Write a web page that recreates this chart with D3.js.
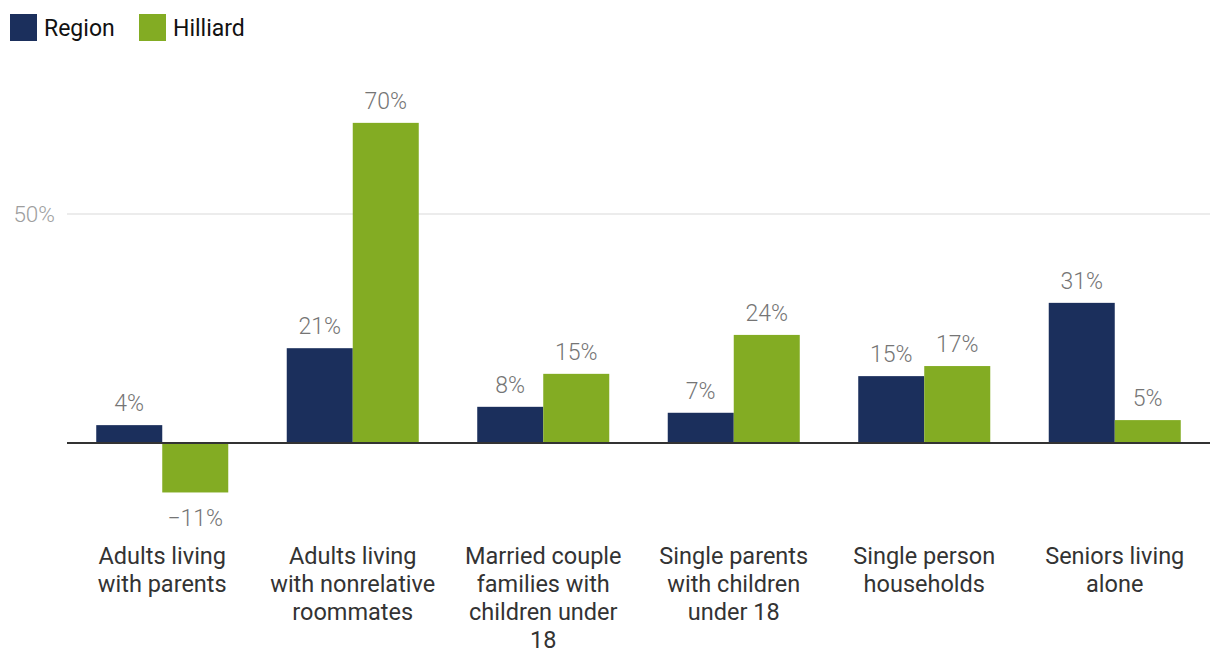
<!DOCTYPE html>
<html>
<head>
<meta charset="utf-8">
<script src="https://cdn.jsdelivr.net/npm/d3@7"></script>
<style>
  body { margin: 0; background: #fff; font-family: Roboto, "Noto Sans", sans-serif; }
</style>
</head>
<body>
<div id="chart"></div>
<script>
// DATA ----------------------------------------------
const categories = [
  ["Adults living", "with parents"],
  ["Adults living", "with nonrelative", "roommates"],
  ["Married couple", "families with", "children under", "18"],
  ["Single parents", "with children", "under 18"],
  ["Single person", "households"],
  ["Seniors living", "alone"]
];
const seriesNames = ["Region", "Hilliard"];
const regionValues = [0.039, 0.207, 0.079, 0.066, 0.146, 0.306];
const hilliardValues = [-0.108, 0.699, 0.151, 0.236, 0.168, 0.050];
const yTicks = [0.5];
const colors = ["#1b2f5c", "#83ac23"];

// SETUP ---------------------------------------------
var width = 1220, height = 670;
var plot = {left: 67, right: 1210};

var svg = d3.select("#chart")
  .append("svg")
    .attr("width", width)
    .attr("height", height);

var y = d3.scaleLinear().domain([0, 0.5]).range([443, 214]);

var x0 = d3.scaleBand()
  .domain(d3.range(categories.length))
  .range([plot.left, plot.right])
  .padding(0);
var bw = x0.bandwidth();
var x1 = d3.scaleBand()
  .domain(seriesNames)
  .range([bw * (0.5 - 0.3465), bw * (0.5 + 0.3465)]);

var rows = categories.map((c, i) => ({
  i: i,
  values: [regionValues[i], hilliardValues[i]]
}));

// gridlines
svg.append("g")
  .selectAll("line")
  .data(yTicks)
  .join("line")
    .attr("x1", plot.left).attr("x2", plot.right)
    .attr("y1", d => y(d)).attr("y2", d => y(d))
    .attr("stroke", "#e6e6e6")
    .attr("stroke-width", 1.5);

svg.append("g")
  .selectAll("text")
  .data(yTicks)
  .join("text")
    .attr("x", 55)
    .attr("y", d => y(d))
    .attr("dy", "0.35em")
    .attr("text-anchor", "end")
    .attr("fill", "#9e9e9e")
    .attr("font-size", 22.5)
    .attr("font-weight", 300)
    .text(d3.format(".0%"));

// bars
var fmt = d3.format(".0%");
var group = svg.append("g")
  .selectAll("g")
  .data(rows)
  .join("g")
    .attr("transform", d => `translate(${x0(d.i)},0)`);

group.selectAll("rect")
  .data(d => d.values.map((v, k) => ({name: seriesNames[k], k: k, v: v})))
  .join("rect")
    .attr("x", d => x1(d.name))
    .attr("width", x1.bandwidth())
    .attr("y", d => y(Math.max(0, d.v)))
    .attr("height", d => Math.abs(y(d.v) - y(0)))
    .attr("fill", d => colors[d.k]);

group.selectAll("text.val")
  .data(d => d.values.map((v, k) => ({name: seriesNames[k], k: k, v: v})))
  .join("text")
    .attr("class", "val")
    .attr("x", d => x1(d.name) + x1.bandwidth() / 2)
    .attr("y", d => d.v >= 0 ? y(d.v) - 22 : y(d.v) + 25)
    .attr("dy", "0.35em")
    .attr("text-anchor", "middle")
    .attr("fill", "#757575")
    .attr("font-size", 23)
    .attr("font-weight", 300)
    .text(d => fmt(d.v));

// zero line
svg.append("line")
  .attr("x1", plot.left).attr("x2", plot.right)
  .attr("y1", y(0)).attr("y2", y(0))
  .attr("stroke", "#333")
  .attr("stroke-width", 2);

// category labels
var cat = svg.append("g")
  .selectAll("text")
  .data(rows)
  .join("text")
    .attr("x", d => x0(d.i) + bw / 2)
    .attr("y", 556)
    .attr("text-anchor", "middle")
    .attr("fill", "#333")
    .attr("font-size", 23.5);
cat.selectAll("tspan")
  .data(d => categories[d.i])
  .join("tspan")
    .attr("x", function() { return d3.select(this.parentNode).attr("x"); })
    .attr("dy", (d, j) => j === 0 ? "0.35em" : 28)
    .text(d => d);

// legend
var legend = svg.append("g");
var legX = [10, 139];
seriesNames.forEach((s, k) => {
  legend.append("rect")
    .attr("x", legX[k]).attr("y", 14)
    .attr("width", 27).attr("height", 27)
    .attr("fill", colors[k]);
  legend.append("text")
    .attr("x", legX[k] + 34).attr("y", 28)
    .attr("dy", "0.35em")
    .attr("fill", "#111")
    .attr("font-size", 23)
    .text(s);
});
</script>
</body>
</html>
